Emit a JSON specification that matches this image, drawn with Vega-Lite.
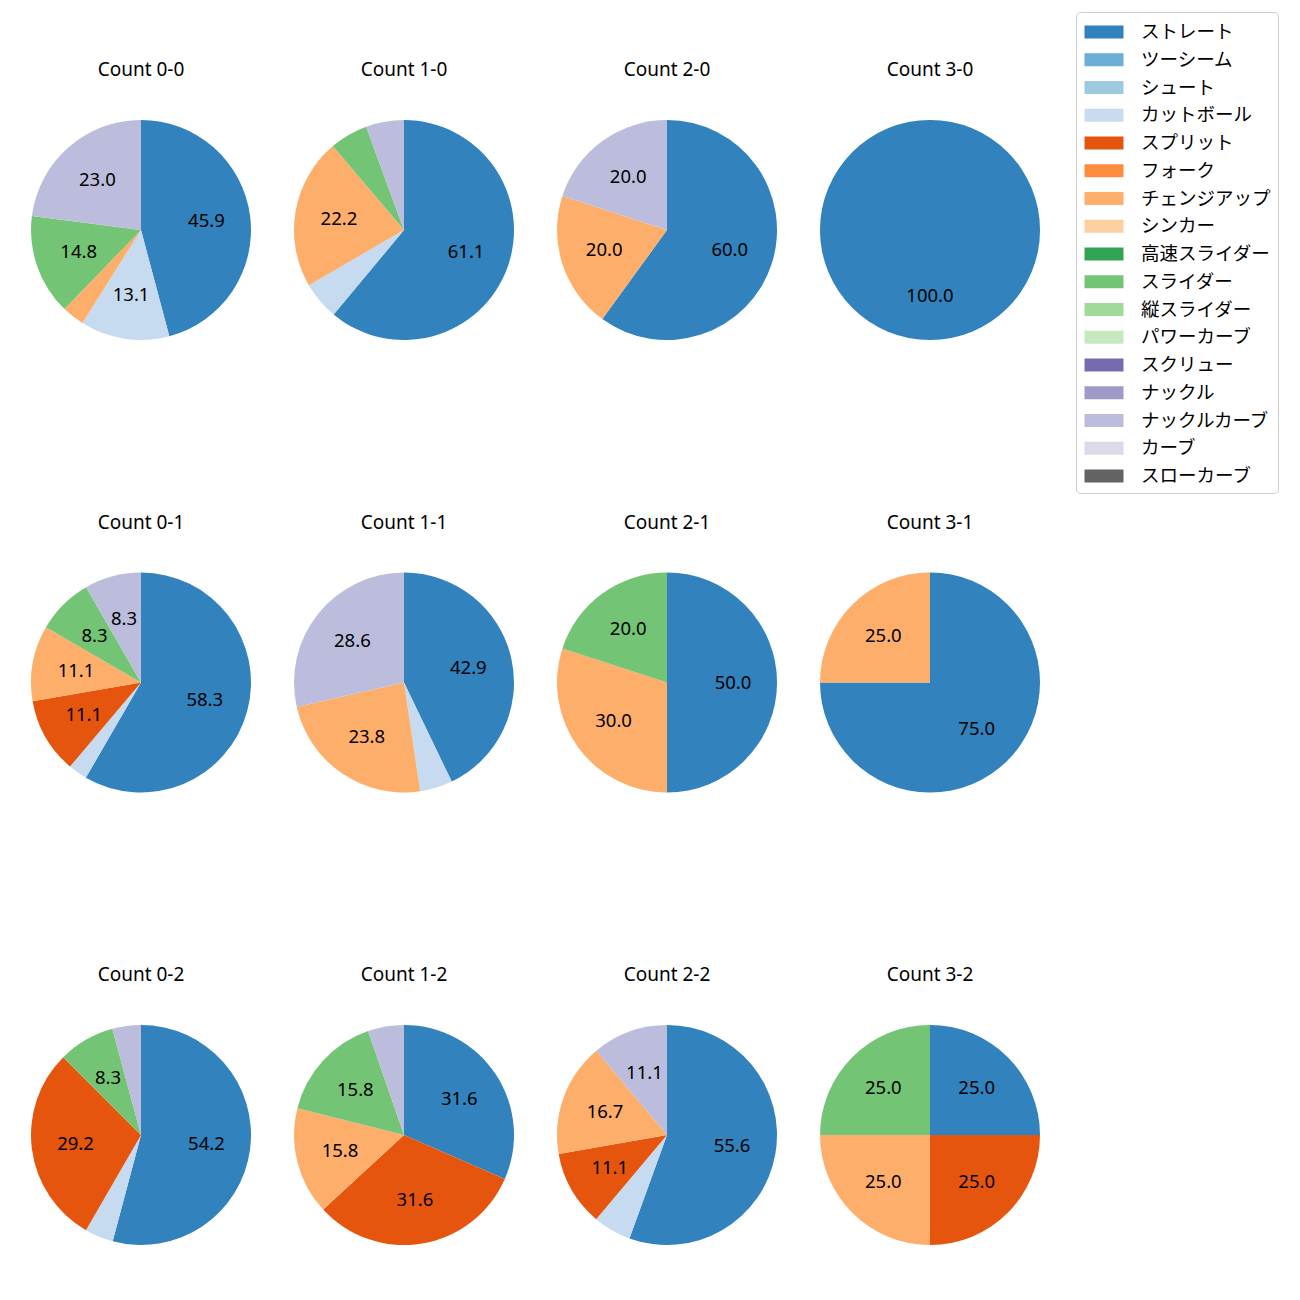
{
  "$schema": "https://vega.github.io/schema/vega-lite/v6.json",
  "padding": {"left": 31, "top": 11, "right": 5, "bottom": 5},
  "data": {"values": [
    {"count": "0-0", "pitch": "ストレート", "pct": 45.9},
    {"count": "0-0", "pitch": "カットボール", "pct": 13.1},
    {"count": "0-0", "pitch": "チェンジアップ", "pct": 3.3},
    {"count": "0-0", "pitch": "スライダー", "pct": 14.8},
    {"count": "0-0", "pitch": "ナックルカーブ", "pct": 23.0},
    {"count": "1-0", "pitch": "ストレート", "pct": 61.1},
    {"count": "1-0", "pitch": "カットボール", "pct": 5.6},
    {"count": "1-0", "pitch": "チェンジアップ", "pct": 22.2},
    {"count": "1-0", "pitch": "スライダー", "pct": 5.6},
    {"count": "1-0", "pitch": "ナックルカーブ", "pct": 5.6},
    {"count": "2-0", "pitch": "ストレート", "pct": 60.0},
    {"count": "2-0", "pitch": "チェンジアップ", "pct": 20.0},
    {"count": "2-0", "pitch": "ナックルカーブ", "pct": 20.0},
    {"count": "3-0", "pitch": "ストレート", "pct": 100.0},
    {"count": "0-1", "pitch": "ストレート", "pct": 58.3},
    {"count": "0-1", "pitch": "カットボール", "pct": 2.8},
    {"count": "0-1", "pitch": "スプリット", "pct": 11.1},
    {"count": "0-1", "pitch": "チェンジアップ", "pct": 11.1},
    {"count": "0-1", "pitch": "スライダー", "pct": 8.3},
    {"count": "0-1", "pitch": "ナックルカーブ", "pct": 8.3},
    {"count": "1-1", "pitch": "ストレート", "pct": 42.9},
    {"count": "1-1", "pitch": "カットボール", "pct": 4.8},
    {"count": "1-1", "pitch": "チェンジアップ", "pct": 23.8},
    {"count": "1-1", "pitch": "ナックルカーブ", "pct": 28.6},
    {"count": "2-1", "pitch": "ストレート", "pct": 50.0},
    {"count": "2-1", "pitch": "チェンジアップ", "pct": 30.0},
    {"count": "2-1", "pitch": "スライダー", "pct": 20.0},
    {"count": "3-1", "pitch": "ストレート", "pct": 75.0},
    {"count": "3-1", "pitch": "チェンジアップ", "pct": 25.0},
    {"count": "0-2", "pitch": "ストレート", "pct": 54.2},
    {"count": "0-2", "pitch": "カットボール", "pct": 4.2},
    {"count": "0-2", "pitch": "スプリット", "pct": 29.2},
    {"count": "0-2", "pitch": "スライダー", "pct": 8.3},
    {"count": "0-2", "pitch": "ナックルカーブ", "pct": 4.2},
    {"count": "1-2", "pitch": "ストレート", "pct": 31.6},
    {"count": "1-2", "pitch": "スプリット", "pct": 31.6},
    {"count": "1-2", "pitch": "チェンジアップ", "pct": 15.8},
    {"count": "1-2", "pitch": "スライダー", "pct": 15.8},
    {"count": "1-2", "pitch": "ナックルカーブ", "pct": 5.3},
    {"count": "2-2", "pitch": "ストレート", "pct": 55.6},
    {"count": "2-2", "pitch": "カットボール", "pct": 5.6},
    {"count": "2-2", "pitch": "スプリット", "pct": 11.1},
    {"count": "2-2", "pitch": "チェンジアップ", "pct": 16.7},
    {"count": "2-2", "pitch": "ナックルカーブ", "pct": 11.1},
    {"count": "3-2", "pitch": "ストレート", "pct": 25.0},
    {"count": "3-2", "pitch": "スプリット", "pct": 25.0},
    {"count": "3-2", "pitch": "チェンジアップ", "pct": 25.0},
    {"count": "3-2", "pitch": "スライダー", "pct": 25.0}
  ]},
  "transform": [
    {"calculate": "indexof(['ストレート','ツーシーム','シュート','カットボール','スプリット','フォーク','チェンジアップ','シンカー','高速スライダー','スライダー','縦スライダー','パワーカーブ','スクリュー','ナックル','ナックルカーブ','カーブ','スローカーブ'], datum.pitch)", "as": "k"}
  ],
  "facet": {
    "field": "count", "type": "nominal",
    "sort": ["0-0","1-0","2-0","3-0","0-1","1-1","2-1","3-1","0-2","1-2","2-2","3-2"],
    "header": {"title": null, "labelFont": "Noto Sans, Noto Sans CJK JP", "labelFontSize": 19, "labelColor": "black", "labelPadding": 40, "labelExpr": "'Count ' + datum.value"}
  },
  "columns": 4,
  "spacing": {"column": 43, "row": 173.5},
  "resolve": {"scale": {"theta": "independent"}},
  "spec": {
    "width": 220,
    "height": 220,
    "encoding": {
      "theta": {"field": "pct", "type": "quantitative", "stack": true},
      "order": {"field": "k", "type": "quantitative"}
    },
    "layer": [
      {
        "mark": {"type": "arc", "outerRadius": 110},
        "encoding": {
          "color": {
            "field": "pitch", "type": "nominal",
            "scale": {
              "domain": ["ストレート","ツーシーム","シュート","カットボール","スプリット","フォーク","チェンジアップ","シンカー","高速スライダー","スライダー","縦スライダー","パワーカーブ","スクリュー","ナックル","ナックルカーブ","カーブ","スローカーブ"],
              "range": ["#3182bd","#6baed6","#9ecae1","#c6dbef","#e6550d","#fd8d3c","#fdae6b","#fdd0a2","#31a354","#74c476","#a1d99b","#c7e9c0","#756bb1","#9e9ac8","#bcbddc","#dadaeb","#636363"]
            },
            "legend": {
              "title": null,
              "orient": "none",
              "legendX": 1045,
              "legendY": -108
            }
          }
        }
      },
      {
        "mark": {"type": "text", "radius": 66, "fontSize": 18.5, "font": "Noto Sans, Noto Sans CJK JP", "color": "black"},
        "encoding": {
          "detail": {"field": "pitch", "type": "nominal"},
          "text": {"condition": {"test": "datum.pct < 7", "value": ""}, "field": "pct", "type": "quantitative", "format": ".1f"}
        }
      }
    ]
  },
  "config": {
    "view": {"stroke": null},
    "legend": {
      "labelFont": "Noto Sans CJK JP",
      "labelFontSize": 18.5,
      "labelColor": "black",
      "symbolType": "M-1.5,-0.5H1.5V0.5H-1.5Z",
      "symbolSize": 676,
      "symbolStrokeWidth": 0,
      "symbolOpacity": 1,
      "symbolOffset": 8,
      "labelOffset": 24,
      "rowPadding": 4.75,
      "padding": 7,
      "strokeColor": "#cccccc",
      "fillColor": "white",
      "cornerRadius": 4
    }
  }
}
